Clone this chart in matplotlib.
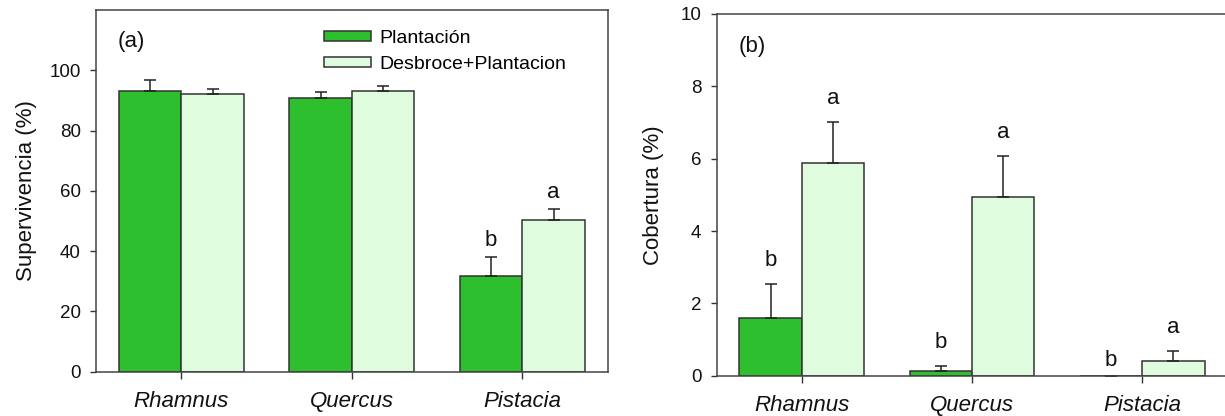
import matplotlib
matplotlib.use("Agg")
import matplotlib.pyplot as plt
import numpy as np

plt.rcParams["font.family"] = ["Liberation Sans", "DejaVu Sans"]

species = ["Rhamnus", "Quercus", "Pistacia"]
series = ["Plantación", "Desbroce+Plantacion"]

# (a) supervivencia
surv_plant = [93.0, 90.9, 31.6]
surv_plant_err = [3.9, 1.9, 6.3]
surv_desb = [92.0, 93.0, 50.2]
surv_desb_err = [1.8, 1.7, 3.8]
surv_letters_plant = ["", "", "b"]
surv_letters_desb = ["", "", "a"]

# (b) cobertura
cob_plant = [1.59, 0.14, 0.0]
cob_plant_err = [0.95, 0.13, 0.0]
cob_desb = [5.88, 4.93, 0.41]
cob_desb_err = [1.12, 1.15, 0.28]
cob_letters_plant = ["b", "b", "b"]
cob_letters_desb = ["a", "a", "a"]

green = "#2ebf2e"
light = "#dffcdf"
edge = "#333333"
w = 0.366

fig = plt.figure(figsize=(12.25, 4.16), dpi=100)
ax1 = fig.add_axes([0.0784, 0.1065, 0.4177, 0.8695])
ax2 = fig.add_axes([0.585, 0.0969, 0.417, 0.8695])

x = np.arange(len(species))
ekw = dict(elinewidth=1.1, ecolor="#222222", capsize=4, capthick=1.1)


def panel(ax, v1, e1, v2, e2, l1, l2, gap):
    ax.bar(x - w / 2, v1, w, color=green, edgecolor=edge, linewidth=1.1,
           yerr=[np.zeros(3), e1], error_kw=ekw, label=series[0])
    ax.bar(x + w / 2, v2, w, color=light, edgecolor=edge, linewidth=1.1,
           yerr=[np.zeros(3), e2], error_kw=ekw, label=series[1])
    for xs, vals, errs, labs in [(x - w / 2, v1, e1, l1), (x + w / 2, v2, e2, l2)]:
        for xi, v, e, t in zip(xs, vals, errs, labs):
            if t:
                off = gap if v + e > 0 else 7
                ax.annotate(t, (xi, v + e), xytext=(0, off), textcoords="offset points",
                            ha="center", va="baseline", fontsize=16, color="#111111")
    ax.set_xlim(-0.5, 2.5)
    ax.set_xticks(x)
    ax.set_xticklabels(species, fontstyle="italic", fontsize=16, color="#111111")
    ax.tick_params(axis="x", direction="out", length=5, pad=9, width=1, color="#333333")
    ax.tick_params(axis="y", direction="out", length=4, pad=7, labelsize=13.5,
                   width=1, color="#333333", labelcolor="#111111")
    for s in ax.spines.values():
        s.set_color("#444444")
        s.set_linewidth(1.1)


panel(ax1, surv_plant, surv_plant_err, surv_desb, surv_desb_err,
      surv_letters_plant, surv_letters_desb, 8)
ax1.set_ylim(0, 120)
ax1.set_yticks([0, 20, 40, 60, 80, 100])
ax1.set_ylabel("Supervivencia (%)", fontsize=16, labelpad=9, color="#111111")
ax1.text(-0.375, 109.4, "(a)", fontsize=16, va="center", ha="left", color="#111111")
ax1.legend(loc="upper left", bbox_to_anchor=(0.4456, 0.945), frameon=False,
           fontsize=14, handlelength=2.4, handleheight=0.4, handletextpad=0.45,
           labelspacing=0.45, borderpad=0, borderaxespad=0)

panel(ax2, cob_plant, cob_plant_err, cob_desb, cob_desb_err,
      cob_letters_plant, cob_letters_desb, 13)
ax2.set_ylim(0, 10)
ax2.set_yticks([0, 2, 4, 6, 8, 10])
ax2.set_ylabel("Cobertura (%)", fontsize=16, labelpad=12, color="#111111")
ax2.text(-0.372, 9.1, "(b)", fontsize=16, va="center", ha="left", color="#111111")

fig.savefig("out.png", dpi=100)
